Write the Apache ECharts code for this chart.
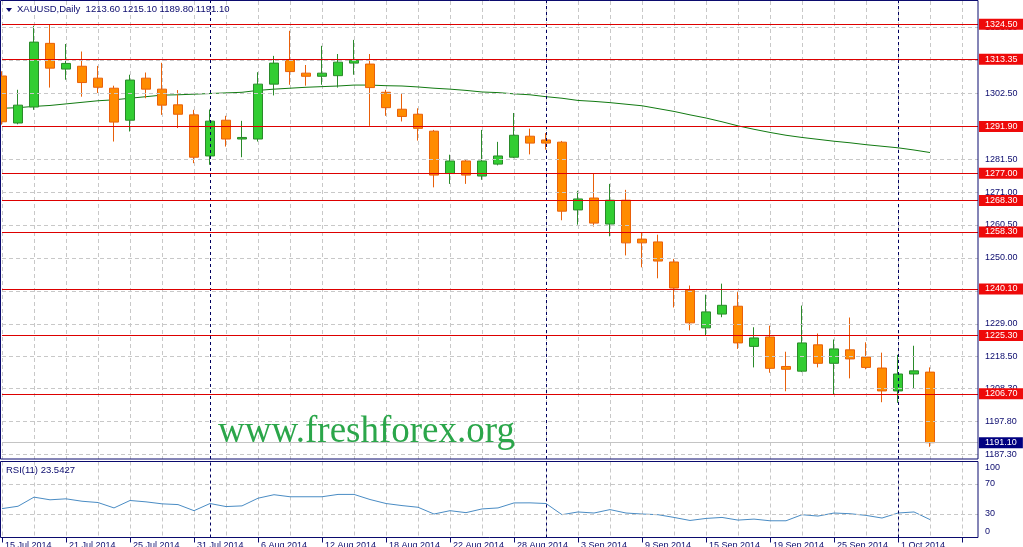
<!DOCTYPE html>
<html>
<head>
<meta charset="utf-8">
<title>XAUUSD,Daily</title>
<script src="https://cdn.jsdelivr.net/npm/echarts@6.0.0/dist/echarts.min.js"></script>
<style>
  html, body { margin: 0; padding: 0; background: #fff; overflow: hidden; }
  #chart { width: 1023px; height: 547px; }
</style>
</head>
<body>
<div id="chart"></div>
<script>
// daily bars, 15 Jul - 3 Oct 2014
var dates = [
  '15 Jul 2014','16 Jul 2014','17 Jul 2014','18 Jul 2014','21 Jul 2014','22 Jul 2014','23 Jul 2014','24 Jul 2014','25 Jul 2014',
  '28 Jul 2014','29 Jul 2014','30 Jul 2014','31 Jul 2014','1 Aug 2014','4 Aug 2014','5 Aug 2014','6 Aug 2014','7 Aug 2014',
  '8 Aug 2014','11 Aug 2014','12 Aug 2014','13 Aug 2014','14 Aug 2014','15 Aug 2014','18 Aug 2014','19 Aug 2014','20 Aug 2014',
  '21 Aug 2014','22 Aug 2014','25 Aug 2014','26 Aug 2014','27 Aug 2014','28 Aug 2014','29 Aug 2014','1 Sep 2014','2 Sep 2014',
  '3 Sep 2014','4 Sep 2014','5 Sep 2014','8 Sep 2014','9 Sep 2014','10 Sep 2014','11 Sep 2014','12 Sep 2014','15 Sep 2014',
  '16 Sep 2014','17 Sep 2014','18 Sep 2014','19 Sep 2014','22 Sep 2014','23 Sep 2014','24 Sep 2014','25 Sep 2014','26 Sep 2014',
  '29 Sep 2014','30 Sep 2014','1 Oct 2014','2 Oct 2014','3 Oct 2014'
];
var opens = [
  1308.0,1293.0,1298.1,1318.4,1310.2,1311.1,1307.3,1304.1,1293.9,1307.3,1303.8,1298.8,1295.6,1282.5,1293.9,1287.9,1287.9,1305.4,
  1313.1,1308.9,1307.9,1308.1,1312.1,1311.8,1302.8,1297.4,1295.8,1290.4,1276.9,1280.9,1276.1,1279.9,1282.1,1288.8,1287.6,1286.9,
  1265.3,1269.1,1260.8,1268.4,1256.0,1255.1,1248.7,1239.7,1227.7,1232.1,1234.6,1221.8,1224.8,1215.4,1213.9,1222.3,1216.4,1220.7,
  1218.4,1214.9,1207.6,1213.0,1213.6
];
var highs = [
  1309.5,1303.6,1324.0,1324.5,1318.2,1315.8,1311.2,1304.9,1308.4,1309.1,1312.2,1303.5,1297.2,1297.3,1295.3,1293.7,1309.2,1314.4,
  1322.4,1311.5,1317.6,1315.0,1319.5,1315.0,1303.6,1302.3,1297.7,1290.8,1282.9,1281.5,1290.8,1287.0,1296.2,1291.2,1289.8,1287.3,
  1271.4,1277.0,1273.6,1271.7,1258.1,1257.4,1249.7,1241.2,1238.3,1241.8,1239.1,1227.9,1228.4,1220.1,1234.8,1225.9,1224.0,1231.0,
  1223.1,1219.8,1219.1,1222.0,1215.1
];
var lows = [
  1292.5,1292.6,1297.2,1304.3,1306.8,1301.4,1302.6,1287.1,1290.3,1300.9,1295.6,1291.4,1280.2,1279.7,1285.5,1282.1,1287.1,1301.8,
  1305.2,1304.9,1305.2,1304.3,1308.4,1292.1,1295.3,1293.5,1287.4,1272.5,1273.6,1273.6,1274.9,1279.5,1281.8,1283.0,1284.5,1262.0,
  1260.6,1260.0,1256.9,1250.8,1247.0,1243.5,1234.2,1226.9,1225.2,1231.1,1221.0,1215.1,1213.4,1207.5,1213.6,1215.1,1206.3,1211.6,
  1214.5,1204.0,1203.8,1208.3,1189.8
];
var closes = [
  1293.4,1298.7,1318.8,1310.5,1312.0,1305.9,1304.4,1293.3,1306.7,1303.8,1298.7,1295.8,1282.1,1293.6,1287.9,1288.4,1305.4,1312.1,
  1309.4,1307.9,1308.9,1312.4,1313.0,1304.3,1297.9,1295.1,1291.3,1276.4,1280.9,1276.4,1280.9,1282.5,1289.1,1286.6,1286.6,1264.9,
  1268.8,1261.1,1268.4,1254.8,1254.8,1249.0,1240.4,1229.3,1232.8,1234.9,1222.9,1224.5,1214.8,1214.5,1222.9,1216.4,1221.0,1217.8,
  1215.1,1207.6,1213.0,1214.0,1191.1
];
var ma = [
  1297.7,1297.9,1298.3,1298.6,1299.1,1299.6,1300.1,1300.4,1300.9,1301.4,1301.9,1302.0,1302.2,1302.4,1302.6,1302.8,1303.4,1303.8,
  1304.1,1304.4,1304.6,1304.8,1305.1,1305.1,1304.9,1304.8,1304.5,1304.1,1303.8,1303.4,1302.9,1302.7,1302.3,1302.0,1301.4,1300.9,
  1300.2,1299.9,1299.5,1299.0,1298.5,1297.6,1296.7,1295.6,1294.6,1293.4,1292.1,1291.0,1290.0,1289.1,1288.4,1287.8,1287.2,1286.7,
  1286.1,1285.6,1285.1,1284.4,1283.6
];
var rsi = [
  38.0,41.1,53.1,49.6,50.9,47.7,46.0,38.9,48.7,46.9,44.3,43.3,35.3,44.7,40.7,41.6,51.7,56.3,
  53.6,53.6,53.6,56.7,56.7,50.0,44.7,42.0,39.8,30.9,35.3,32.7,37.6,38.9,45.5,45.6,44.7,30.0,
  33.6,32.2,36.7,32.2,30.9,30.0,26.4,22.4,25.1,26.4,22.9,24.2,22.0,22.0,30.0,28.2,32.2,31.3,
  29.1,25.6,32.2,33.6,23.5427
];
var levels = [1324.50, 1313.35, 1291.90, 1277.00, 1268.30, 1258.30, 1240.10, 1225.30, 1206.70];
var priceTicks = [1323.50, 1313.00, 1302.50, 1292.00, 1281.50, 1271.00, 1260.50, 1250.00, 1239.50, 1229.00, 1218.50, 1208.30, 1197.80, 1187.30];
var rsiTicks = [100, 70, 30, 0];
var rsiGrid = [70, 30];
var monthStarts = ['1 Aug 2014', '1 Sep 2014', '1 Oct 2014'];

var NAVY = '#0b0b6e';
var FONT = '"Liberation Sans", Arial, sans-serif';

var categories = dates.concat(['', '', '']);
var ohlc = opens.map(function (o, i) { return [o, closes[i], lows[i], highs[i]]; });
var last = opens.length - 1;

var dashGray = { color: '#c8c8c8', type: [4, 3], width: 1 };
var sepLine = { color: '#000060', type: [3, 3], width: 1 };

function tickLabel(text, extra) {
  var l = { show: true, position: 'end', distance: 7, formatter: text, color: NAVY, fontSize: 9, fontFamily: FONT };
  for (var k in extra) l[k] = extra[k];
  return l;
}

var mainMarks = [];
priceTicks.forEach(function (v) {
  mainMarks.push({ yAxis: v, lineStyle: dashGray, label: tickLabel(v.toFixed(2)) });
});
monthStarts.forEach(function (d) {
  mainMarks.push({ xAxis: d, lineStyle: sepLine, label: { show: false } });
});
levels.forEach(function (v) {
  mainMarks.push({
    yAxis: v, lineStyle: { color: '#dd0000', type: 'solid', width: 1 },
    label: tickLabel(v.toFixed(2), { distance: 1, color: '#fff', backgroundColor: '#ee0a0a', padding: [1, 6, 1, 6], lineHeight: 9 })
  });
});
mainMarks.push({
  yAxis: closes[last], lineStyle: { color: '#c4c4c4', type: 'solid', width: 1 },
  label: tickLabel(closes[last].toFixed(2), { distance: 1, color: '#fff', backgroundColor: '#000080', padding: [1, 6, 1, 6], lineHeight: 9 })
});

var rsiMarks = [];
rsiTicks.forEach(function (v) {
  var onGrid = rsiGrid.indexOf(v) >= 0;
  var off = v === 100 ? [0, 6] : (v === 0 ? [0, -6] : [0, -1]);
  rsiMarks.push({
    yAxis: v,
    lineStyle: onGrid ? dashGray : { color: 'rgba(0,0,0,0)', width: 0 },
    label: tickLabel(String(v), { offset: off })
  });
});
monthStarts.forEach(function (d) {
  rsiMarks.push({ xAxis: d, lineStyle: sepLine, label: { show: false } });
});

var chart = echarts.init(document.getElementById('chart'), null, { renderer: 'canvas' });

var option = {
  animation: false,
  backgroundColor: '#ffffff',
  grid: [
    { left: 2, right: 45, top: 1, height: 458, containLabel: false, outerBoundsMode: 'none' },
    { left: 2, right: 45, top: 461.5, height: 76, containLabel: false, outerBoundsMode: 'none' }
  ],
  xAxis: [
    {
      type: 'category', gridIndex: 0, data: categories, boundaryGap: false,
      axisLine: { show: false }, axisTick: { show: false }, axisLabel: { show: false },
      splitLine: { show: true, interval: 1, lineStyle: dashGray }
    },
    {
      type: 'category', gridIndex: 1, data: categories, boundaryGap: false, position: 'bottom',
      axisLine: { show: false },
      axisTick: { show: true, interval: 3, length: 5, lineStyle: { color: NAVY } },
      axisLabel: { interval: 3, align: 'left', margin: 4, padding: [0, 0, 0, 3], color: NAVY, fontSize: 9, fontFamily: FONT },
      splitLine: { show: true, interval: 1, lineStyle: dashGray }
    }
  ],
  yAxis: [
    { type: 'value', gridIndex: 0, min: 1185.9, max: 1331.9, show: false, splitLine: { show: false } },
    { type: 'value', gridIndex: 1, min: 0, max: 100, show: false, splitLine: { show: false } }
  ],
  series: [
    {
      name: 'MA', type: 'line', xAxisIndex: 0, yAxisIndex: 0, data: ma, z: 1,
      symbol: 'none', lineStyle: { color: '#117a11', width: 1 },
      markLine: { silent: true, symbol: ['none', 'none'], animation: false, data: mainMarks }
    },
    {
      name: 'XAUUSD', type: 'candlestick', xAxisIndex: 0, yAxisIndex: 0, data: ohlc, z: 3,
      barWidth: 9, clip: true,
      itemStyle: { color: '#32cd32', color0: '#ff8c00', borderColor: '#2a8a2a', borderColor0: '#e8600a', borderWidth: 1 }
    },
    {
      name: 'RSI(11)', type: 'line', xAxisIndex: 1, yAxisIndex: 1, data: rsi, z: 2,
      symbol: 'none', lineStyle: { color: '#4a8cc4', width: 1 },
      markLine: { silent: true, symbol: ['none', 'none'], animation: false, data: rsiMarks }
    }
  ],
  graphic: [
    { type: 'rect', z: 100, silent: true, shape: { x: 0.5, y: 0.5, width: 977.5, height: 458.5 }, style: { fill: 'none', stroke: NAVY, lineWidth: 1 } },
    { type: 'rect', z: 100, silent: true, shape: { x: 0.5, y: 461.5, width: 977.5, height: 76 }, style: { fill: 'none', stroke: NAVY, lineWidth: 1 } },
    { type: 'polygon', z: 100, silent: true, shape: { points: [[6, 8], [12, 8], [9, 12]] }, style: { fill: NAVY } },
    {
      type: 'text', z: 100, silent: true, left: 17, top: 4,
      style: {
        text: 'XAUUSD,Daily  ' + [opens[last], highs[last], lows[last], closes[last]].map(function (v) { return v.toFixed(2); }).join(' '),
        fill: NAVY, font: '9.5px ' + FONT
      }
    },
    { type: 'text', z: 100, silent: true, left: 6, top: 465, style: { text: 'RSI(11) ' + rsi[last].toFixed(4), fill: NAVY, font: '9.5px ' + FONT } },
    { type: 'text', z: 100, silent: true, left: 218, top: 414, style: { text: 'www.freshforex.org', fill: '#2ba64a', font: '37px "Liberation Serif", "Times New Roman", serif' } }
  ]
};

chart.setOption(option);
window.addEventListener('resize', function () {
  chart.resize();
});
</script>
</body>
</html>
